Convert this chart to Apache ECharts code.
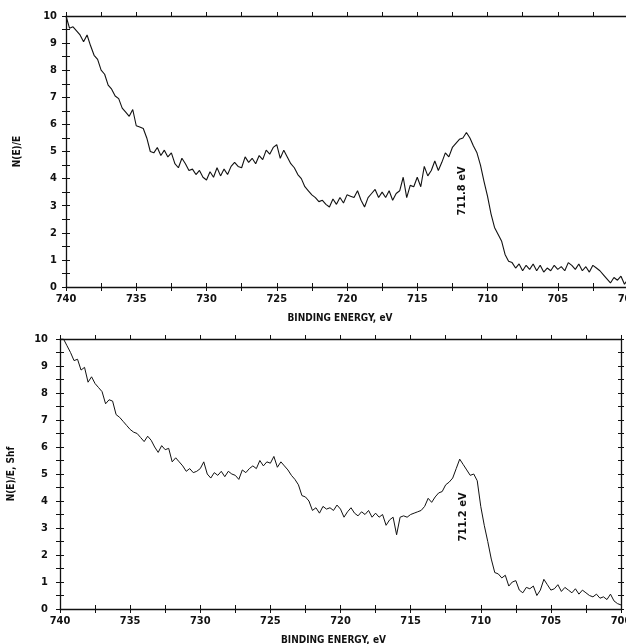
<!DOCTYPE html>
<html>
<head>
<meta charset="utf-8">
<script src="https://cdn.jsdelivr.net/npm/echarts@6/dist/echarts.min.js"></script>
<style>
  html, body { margin: 0; padding: 0; background: #fff; }
  #chart { width: 626px; height: 644px; }
</style>
</head>
<body>
<div id="chart"></div>
<script>
// binding energy grid: 740 -> 700 eV, 0.25 eV per point
const energyStart = 740
const energyStep = 0.25

// upper spectrum, N(E)/E
const topValues = [
  10.0, 9.55, 9.6, 9.45, 9.3, 9.05, 9.3, 8.9, 8.55, 8.4,
  8.0, 7.85, 7.45, 7.3, 7.05, 6.95, 6.6, 6.45, 6.3, 6.55,
  5.95, 5.9, 5.85, 5.5, 5.0, 4.95, 5.15, 4.85, 5.05, 4.8,
  4.95, 4.55, 4.4, 4.75, 4.55, 4.3, 4.35, 4.15, 4.3, 4.05,
  3.95, 4.25, 4.05, 4.4, 4.1, 4.35, 4.15, 4.45, 4.6, 4.45,
  4.4, 4.8, 4.6, 4.75, 4.55, 4.85, 4.7, 5.05, 4.9, 5.15,
  5.25, 4.75, 5.05, 4.8, 4.55, 4.4, 4.15, 4.0, 3.7, 3.55,
  3.4, 3.3, 3.15, 3.2, 3.05, 2.95, 3.25, 3.05, 3.3, 3.1,
  3.4, 3.35, 3.3, 3.55, 3.2, 2.95, 3.3, 3.45, 3.6, 3.3,
  3.5, 3.3, 3.55, 3.2, 3.45, 3.55, 4.05, 3.3, 3.75, 3.7,
  4.05, 3.7, 4.45, 4.1, 4.3, 4.65, 4.3, 4.6, 4.95, 4.8,
  5.15, 5.3, 5.45, 5.5, 5.7, 5.5, 5.2, 4.95, 4.5, 3.9,
  3.35, 2.7, 2.2, 1.95, 1.7, 1.2, 0.95, 0.9, 0.7, 0.85,
  0.6, 0.8, 0.65, 0.85, 0.6, 0.8, 0.55, 0.7, 0.6, 0.8,
  0.65, 0.75, 0.6, 0.9, 0.8, 0.65, 0.85, 0.6, 0.75, 0.55,
  0.8, 0.7, 0.6, 0.45, 0.3, 0.15, 0.35, 0.25, 0.4, 0.1,
  0.3
]

// lower spectrum, N(E)/E, shifted
const bottomValues = [
  10.0, 10.0, 9.75, 9.5, 9.2, 9.25, 8.85, 8.95, 8.4, 8.6,
  8.35, 8.2, 8.05, 7.6, 7.75, 7.7, 7.2, 7.1, 6.95, 6.8,
  6.65, 6.55, 6.5, 6.35, 6.2, 6.4, 6.25, 6.0, 5.8, 6.05,
  5.9, 5.95, 5.45, 5.6, 5.45, 5.3, 5.1, 5.2, 5.05, 5.1,
  5.2, 5.45, 5.0, 4.85, 5.05, 4.95, 5.1, 4.9, 5.1, 5.0,
  4.95, 4.8, 5.15, 5.05, 5.2, 5.3, 5.2, 5.5, 5.3, 5.45,
  5.4, 5.65, 5.25, 5.45, 5.3, 5.15, 4.95, 4.8, 4.6, 4.2,
  4.15, 4.0, 3.65, 3.75, 3.55, 3.8, 3.7, 3.75, 3.65, 3.85,
  3.7, 3.4, 3.6, 3.75, 3.55, 3.45, 3.6, 3.5, 3.65, 3.4,
  3.55, 3.4, 3.5, 3.1, 3.3, 3.4, 2.75, 3.4, 3.45, 3.4,
  3.5, 3.55, 3.6, 3.65, 3.8, 4.1, 3.95, 4.15, 4.3, 4.35,
  4.6, 4.7, 4.85, 5.2, 5.55, 5.35, 5.15, 4.95, 5.0, 4.75,
  3.8, 3.1, 2.5, 1.85, 1.35, 1.3, 1.15, 1.25, 0.85, 1.0,
  1.05, 0.7, 0.6, 0.8, 0.75, 0.85, 0.5, 0.7, 1.1, 0.9,
  0.7, 0.75, 0.9, 0.65, 0.8, 0.7, 0.6, 0.75, 0.55, 0.7,
  0.6, 0.5, 0.45, 0.55, 0.4, 0.45, 0.35, 0.55, 0.3, 0.2,
  0.15
]

const peakLabels = ['711.8 eV', '711.2 eV']
const yAxisNames = ['N(E)/E', 'N(E)/E, Shf']
const xAxisName = 'BINDING ENERGY, eV'

const font = '"Liberation Sans Narrow", "DejaVu Sans Condensed", sans-serif'
const ink = '#111'

function toPairs(values) {
  return values.map((v, i) => [energyStart - i * energyStep, v])
}

function xAxes(gridIndex) {
  const base = {
    gridIndex: gridIndex,
    type: 'value',
    inverse: true,
    min: 700,
    max: 740,
    interval: 2.5,
    splitLine: { show: false },
    axisLine: { show: true, onZero: false, lineStyle: { color: ink, width: 1.3 } },
    axisTick: { show: true, length: 4, lineStyle: { color: ink, width: 1 } },
    axisLabel: { show: false }
  }
  return [
    {
      ...base,
      position: 'bottom',
      name: xAxisName,
      nameLocation: 'middle',
      nameGap: 26,
      nameTextStyle: { color: ink, fontFamily: font, fontWeight: 'bold', fontSize: 10, padding: [0, 14, 0, 0] },
      axisLabel: {
        show: true,
        margin: 7,
        color: ink,
        fontFamily: font,
        fontWeight: 'bold',
        fontSize: 11,
        formatter: v => (v % 5 === 0 ? String(v) : '')
      }
    },
    { ...base, position: 'bottom', axisLine: { show: false }, axisTick: { ...base.axisTick, inside: true } },
    { ...base, position: 'top' },
    { ...base, position: 'top', axisLine: { show: false }, axisTick: { ...base.axisTick, inside: true } }
  ]
}

function yAxes(gridIndex, name, labelMargin, withRight) {
  const base = {
    gridIndex: gridIndex,
    type: 'value',
    min: 0,
    max: 10,
    interval: 0.5,
    splitLine: { show: false },
    axisLine: { show: true, onZero: false, lineStyle: { color: ink, width: 1.3 } },
    axisTick: { show: true, length: 4, lineStyle: { color: ink, width: 1 } },
    axisLabel: { show: false }
  }
  const list = [
    {
      ...base,
      position: 'left',
      name: name,
      nameLocation: 'middle',
      nameGap: 44,
      nameRotate: 90,
      nameTextStyle: { color: ink, fontFamily: font, fontWeight: 'bold', fontSize: 10 },
      axisLabel: {
        show: true,
        margin: labelMargin,
        color: ink,
        fontFamily: font,
        fontWeight: 'bold',
        fontSize: 11,
        formatter: v => (v % 1 === 0 ? String(v) : '')
      }
    },
    { ...base, position: 'left', axisLine: { show: false }, axisTick: { ...base.axisTick, inside: true } }
  ]
  if (withRight) {
    list.push({ ...base, position: 'right', axisTick: { ...base.axisTick, length: 3 } })
    list.push({ ...base, position: 'right', axisLine: { show: false }, axisTick: { ...base.axisTick, length: 3, inside: true } })
  }
  return list
}

const chart = echarts.init(document.getElementById('chart'))

chart.setOption({
  animation: false,
  backgroundColor: '#fff',
  grid: [
    { left: 66, right: -2, top: 16, height: 271, outerBoundsMode: 'none', containLabel: false },
    { left: 60, right: 5, top: 339, height: 270, outerBoundsMode: 'none', containLabel: false }
  ],
  xAxis: [...xAxes(0), ...xAxes(1)],
  yAxis: [...yAxes(0, yAxisNames[0], 9, false), ...yAxes(1, yAxisNames[1], 12, true)],
  series: [
    {
      type: 'line',
      xAxisIndex: 0,
      yAxisIndex: 0,
      data: toPairs(topValues),
      showSymbol: false,
      lineStyle: { color: ink, width: 1.1 },
      silent: true
    },
    {
      type: 'line',
      xAxisIndex: 4,
      yAxisIndex: 2,
      data: toPairs(bottomValues),
      showSymbol: false,
      lineStyle: { color: ink, width: 1 },
      silent: true
    }
  ],
  graphic: [
    {
      type: 'text',
      x: 462,
      y: 191,
      rotation: Math.PI / 2,
      style: { text: peakLabels[0], fill: ink, font: 'bold 11px ' + font, align: 'center', verticalAlign: 'middle' }
    },
    {
      type: 'text',
      x: 463,
      y: 517,
      rotation: Math.PI / 2,
      style: { text: peakLabels[1], fill: ink, font: 'bold 11px ' + font, align: 'center', verticalAlign: 'middle' }
    }
  ]
})
</script>
</body>
</html>
